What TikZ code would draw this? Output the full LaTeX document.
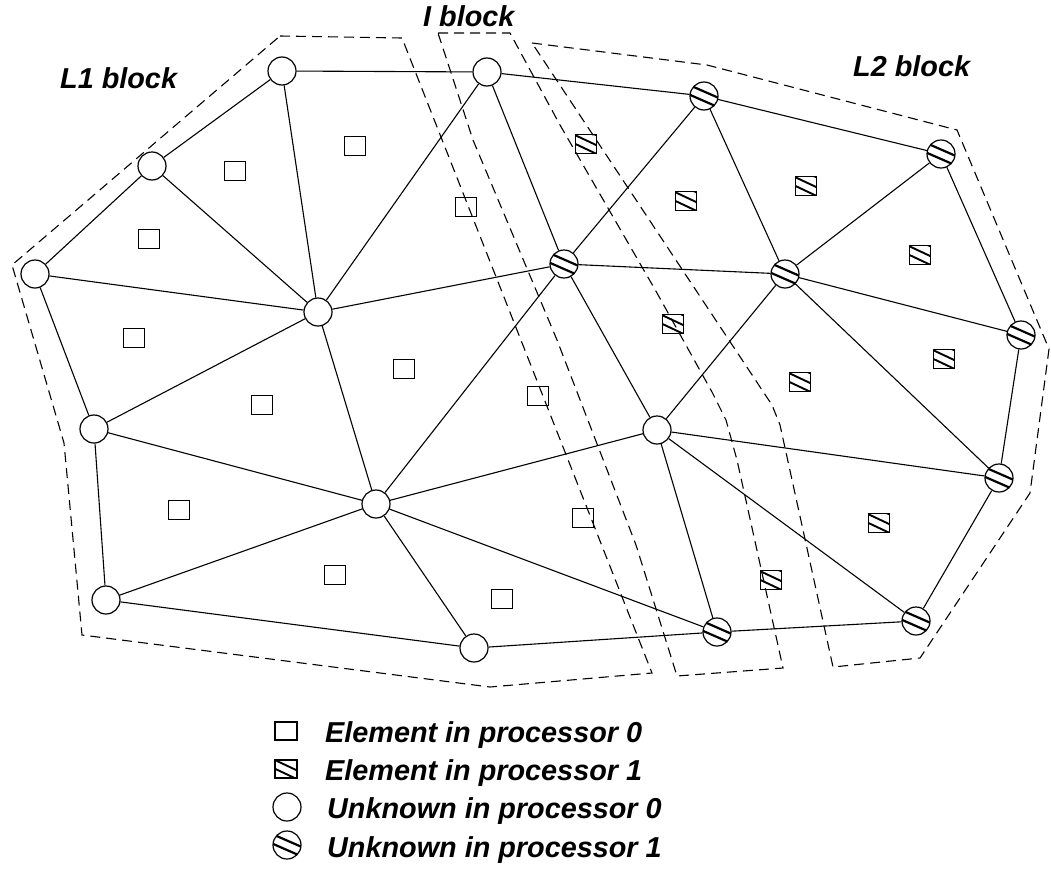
\documentclass[tikz,border=0pt]{standalone}
\usepackage{fontspec}
\setmainfont{Liberation Sans}
\usetikzlibrary{calc}
\begin{document}
\begin{tikzpicture}[x=1pt,y=-1pt,
  edge/.style={line width=1.1pt},
  blockline/.style={line width=1.1pt, dash pattern=on 10pt off 6pt},
  unk0/.style={circle, draw, line width=1.2pt, fill=white, minimum size=28pt, inner sep=0pt},
  unk1/.style={unk0, path picture={
     \draw[line width=2.2pt] ([shift={(-16pt,11.5pt)}]path picture bounding box.center)
        -- ([shift={(16pt,-2.5pt)}]path picture bounding box.center);
     \draw[line width=2.2pt] ([shift={(-16pt,2pt)}]path picture bounding box.center)
        -- ([shift={(16pt,-12pt)}]path picture bounding box.center);}},
  elem0/.style={rectangle, draw, line width=1.1pt, minimum width=21pt, minimum height=19pt, inner sep=0pt},
  elem1/.style={elem0, path picture={
     \draw[line width=1.9pt] ([shift={(-12pt,9.4pt)}]path picture bounding box.center)
        -- ([shift={(12pt,-1.9pt)}]path picture bounding box.center);
     \draw[line width=1.9pt] ([shift={(-12pt,0.7pt)}]path picture bounding box.center)
        -- ([shift={(12pt,-10.6pt)}]path picture bounding box.center);
     \draw[line width=1.9pt] ([shift={(-12pt,19.2pt)}]path picture bounding box.center)
        -- ([shift={(12pt,7.9pt)}]path picture bounding box.center);}},
  txt/.style={font=\fontsize{28.8}{34}\selectfont\bfseries\itshape, inner sep=0pt, anchor=base west}
]
\useasboundingbox (0,0) rectangle (1051,870);

% unknowns owned by processor 0
\node[unk0] (A) at (152,166) {};
\node[unk0] (B) at (282,71) {};
\node[unk0] (C) at (487,72) {};
\node[unk0] (D) at (35,274) {};
\node[unk0] (E) at (318,312) {};
\node[unk0] (F) at (94,429) {};
\node[unk0] (G) at (376,504) {};
\node[unk0] (H) at (106,600) {};
\node[unk0] (I) at (474,648) {};
\node[unk0] (J) at (657,430) {};
% unknowns owned by processor 1
\node[unk1] (K) at (704,96) {};
\node[unk1] (L) at (941,154) {};
\node[unk1] (M) at (564,264) {};
\node[unk1] (N) at (785,274) {};
\node[unk1] (O) at (1021,335) {};
\node[unk1] (P) at (999,478) {};
\node[unk1] (Q) at (717,632) {};
\node[unk1] (R) at (916,621) {};

% mesh edges
\foreach \a/\b in {A/B, B/C, D/A, A/E, B/E, C/E, D/E, D/F, F/E, F/G, E/G, F/H,
                   H/G, H/I, G/I, E/M, C/M, C/K, M/G, K/M, K/N, K/L, L/N, L/O,
                   M/N, N/O, N/J, M/J, J/G, N/P, J/P, O/P, P/R, J/R, J/Q, R/Q,
                   Q/I, G/Q}
  \draw[edge] (\a) -- (\b);

% elements owned by processor 0
\node[elem0] (e1) at (355,146) {};
\node[elem0] (e2) at (235,171) {};
\node[elem0] (e3) at (149,239) {};
\node[elem0] (e4) at (466,207) {};
\node[elem0] (e5) at (134,338) {};
\node[elem0] (e6) at (262,405) {};
\node[elem0] (e7) at (404,369) {};
\node[elem0] (e8) at (179,510) {};
\node[elem0] (e9) at (335,575) {};
\node[elem0] (e10) at (502,599) {};
\node[elem0] (e11) at (538,396) {};
\node[elem0] (e12) at (583,518) {};
% elements owned by processor 1
\node[elem1] (f1) at (586,144) {};
\node[elem1] (f2) at (686,201) {};
\node[elem1] (f3) at (806,186) {};
\node[elem1] (f4) at (920,255) {};
\node[elem1] (f5) at (673,324) {};
\node[elem1] (f6) at (800,382) {};
\node[elem1] (f7) at (944,359) {};
\node[elem1] (f8) at (879,523) {};
\node[elem1] (f9) at (771,580) {};

% block outlines
\draw[blockline] (280,36) -- (402,38) -- (652,673) -- (490,687) -- (82,635)
  -- (64,443) -- (12,265) -- cycle;
\draw[blockline] (438,33) -- (510,33) -- (560,125) -- (657,293) -- (712,392)
  -- (726,420) -- (737,460) -- (783,668) -- (677,676) -- (636,545)
  -- (557,340) -- (473,140) -- cycle;
\draw[blockline] (532,43) -- (707,65) -- (957,130) -- (1049,349) -- (1030,493)
  -- (920,658) -- (833,667) -- (780,425) -- (772,405) -- cycle;

% block names
\node[txt] (t1) at (60,88) {L1 block};
\node[txt] (t2) at (423,27) {I block};
\node[txt] (t3) at (853,76) {L2 block};

% legend
\node[elem0, minimum width=22pt, minimum height=18pt] (k1) at (286,731) {};
\node[elem1, minimum width=22pt, minimum height=18pt] (k2) at (286,769) {};
\node[unk0] (k3) at (287,807) {};
\node[unk1] (k4) at (287,845) {};
\node[txt] (l1) at (325,742) {Element in processor 0};
\node[txt] (l2) at (325,780) {Element in processor 1};
\node[txt] (l3) at (327,818) {Unknown in processor 0};
\node[txt] (l4) at (327,857) {Unknown in processor 1};
\end{tikzpicture}
\end{document}
